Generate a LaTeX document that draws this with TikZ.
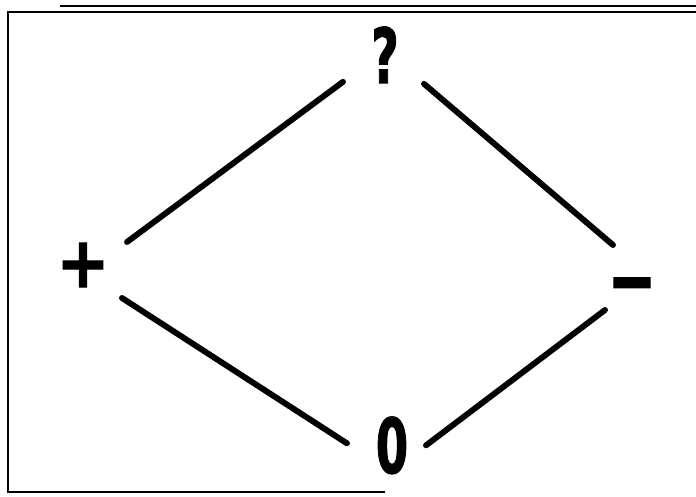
\documentclass[tikz,border=0pt]{standalone}
\usepackage{fontspec}
\usepackage{graphicx}
\usetikzlibrary{positioning, calc}
\newfontfamily\signfont[BoldFeatures={FakeBold=1.5}]{DejaVu Sans Condensed}
\newcommand{\narrow}[3]{\scalebox{#1}[#2]{#3}}

\begin{document}
\begin{tikzpicture}[x=0.025cm, y=-0.025cm,
    sign/.style={inner sep=0pt, font=\signfont\bfseries\fontsize{54}{54}\selectfont},
    link/.style={line width=4.2pt, line cap=round},
    frame/.style={line width=1.4pt}]

\useasboundingbox (0,0) rectangle (696,497);

% ================= MARCO =================
\draw[frame] (696,12) -- (8,12) -- (8,492) -- (385,492);
\draw[line width=1pt] (60,6) -- (696,6);

% ================= SIGNOS =================
\node[sign, anchor=base] (quest) at (385,83) {\narrow{0.7}{1}{?}};
\node[sign, anchor=base] (zero) at (392,473) {\narrow{0.68}{1}{0}};
\node[sign, font=\signfont\bfseries\fontsize{50}{50}\selectfont] (plus) at (83,265) {+};
\node[sign, font=\signfont\bfseries\fontsize{48}{48}\selectfont] (minus) at (632,294) {\narrow{0.95}{1.3}{−}};

% conexiones (los extremos quedan apartados de cada signo)
\draw[link] ($(plus.center)+(44,-23)$) -- ($(quest.center)+(-42,27)$);
\draw[link] ($(quest.center)+(39,29)$) -- ($(minus.center)+(-19,-49)$);
\draw[link] ($(plus.center)+(39,33)$) -- ($(zero.center)+(-45,-2)$);
\draw[link] ($(zero.center)+(34,0)$) -- ($(minus.center)+(-27,16)$);

\end{tikzpicture}
\end{document}
